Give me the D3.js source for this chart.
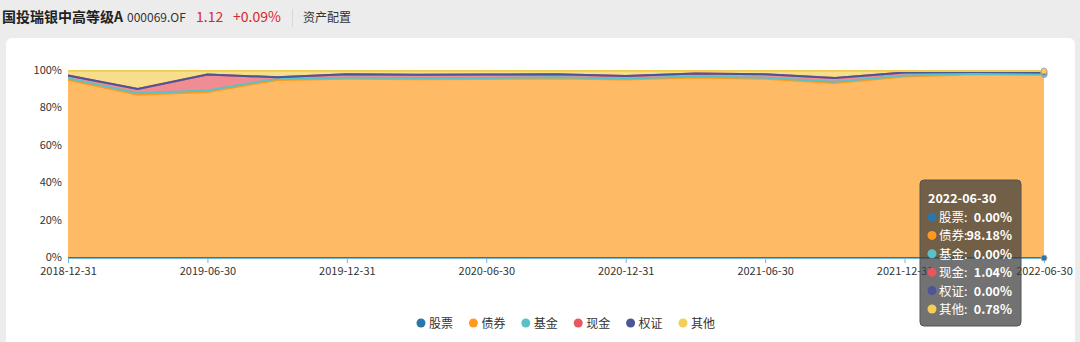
<!DOCTYPE html>
<html>
<head>
<meta charset="utf-8">
<script src="https://d3js.org/d3.v7.min.js"></script>
<style>
  body{margin:0;background:#ececec;}
  text{font-family:"Noto Sans CJK SC","Noto Sans",sans-serif;}
  .tick text{font-size:11px;fill:#333;}
</style>
</head>
<body>
<script>
var dates=["2018-12-31","2019-03-31","2019-06-30","2019-09-30","2019-12-31","2020-03-31","2020-06-30","2020-09-30","2020-12-31","2021-03-31","2021-06-30","2021-09-30","2021-12-31","2022-03-31","2022-06-30"]
var names=["股票","债券","基金","现金","权证","其他"]
var colors=["#2a78ab","#ff9a1e","#5cc1c4","#e8575f","#4b5597","#f2cf55"]
var stock=[0,0,0,0,0,0,0,0,0,0,0,0,0,0,0]
var bond=[95.3,87.3,88.8,95.2,95.8,95.6,95.7,96.0,95.4,96.5,95.8,93.6,97.0,98.2,98.18]
var fund=[0.8,0.8,0.8,0.7,0.6,0.6,0.6,0.6,0.6,0.6,0.6,0.6,0.6,0.3,0.0]
var cash=[1.5,2.3,8.5,0.8,1.8,1.8,1.8,1.6,1.3,1.6,1.8,2.1,1.6,0.9,1.04]
var warrant=[0,0,0,0,0,0,0,0,0,0,0,0,0,0,0]
var other=[2.4,9.6,1.9,3.3,1.8,2.0,1.9,1.8,2.7,1.3,1.8,3.7,0.8,0.6,0.78]
var yTicks=[0,20,40,60,80,100]

var series=[stock,bond,fund,cash,warrant,other]
var rows=dates.map(function(d,i){
  var r={date:d}
  names.forEach(function(n,k){r[n]=series[k][i]})
  return r
})

var W=1080,H=342
var svg=d3.select("body").append("svg").attr("width",W).attr("height",H)
svg.append("rect").attr("x",0).attr("y",0).attr("width",W).attr("height",H).attr("fill","#ececec")
svg.append("rect").attr("x",6).attr("y",38).attr("width",1069).attr("height",320).attr("rx",6).attr("fill","#fff")

// header
var head=svg.append("g")
head.append("text").attr("x",2).attr("y",22).attr("font-size",14).attr("font-weight","bold").attr("fill","#222").text("国投瑞银中高等级A")
head.append("text").attr("x",127).attr("y",22).attr("font-size",12).attr("fill","#333").text("000069.OF")
head.append("text").attr("x",196).attr("y",22).attr("font-size",14).attr("fill","#d9262c").text("1.12")
head.append("text").attr("x",233).attr("y",22).attr("font-size",14).attr("fill","#d9262c").text("+0.09%")
head.append("line").attr("x1",292.5).attr("x2",292.5).attr("y1",9).attr("y2",27).attr("stroke","#d8d8d8")
head.append("text").attr("x",303).attr("y",22).attr("font-size",12).attr("fill","#333").text("资产配置")

var x=d3.scalePoint().domain(dates).range([68,1044])
var y=d3.scaleLinear().domain([0,100]).range([258,71])

var stacked=d3.stack().keys(names)(rows)

var area=d3.area().x(function(d){return x(d.data.date)}).y0(function(d){return y(d[0])}).y1(function(d){return y(d[1])})
var line=d3.line().x(function(d){return x(d.data.date)}).y(function(d){return y(d[1])})

var g=svg.append("g")
g.selectAll("path.area").data(stacked).enter().append("path").attr("class","area")
  .attr("d",area).attr("fill",function(d,i){return colors[i]}).attr("fill-opacity",0.68)

// y axis
var yAxis=d3.axisLeft(y).tickValues(yTicks).tickFormat(function(d){return d+"%"}).tickSize(0).tickPadding(6)
var ya=svg.append("g").attr("transform","translate(68,-1)").call(yAxis)
ya.select(".domain").remove()

// x axis
var xAxis=d3.axisBottom(x).tickValues(dates.filter(function(d,i){return i%2==0})).tickSize(5).tickSizeOuter(0).tickPadding(4)
var xa=svg.append("g").attr("transform","translate(0,258)").call(xAxis)
xa.select(".domain").attr("stroke","#6fb8e0")
xa.selectAll(".tick line").attr("stroke","#6fb8e0")

g.selectAll("path.line").data(stacked).enter().append("path").attr("class","line")
  .attr("d",line).attr("fill","none").attr("stroke",function(d,i){return colors[i]}).attr("stroke-width",2)

// highlighted points at last date
var last=dates.length-1
svg.append("g").selectAll("circle").data(stacked).enter().append("circle")
  .attr("cx",x(dates[last])).attr("cy",function(d){return y(d[last][1])})
  .attr("r",3).attr("fill",function(d,i){return colors[i]}).attr("stroke","#aaa").attr("stroke-width",1)

// legend
var leg=svg.append("g").attr("transform","translate(421,323)")
var li=leg.selectAll("g").data(names).enter().append("g").attr("transform",function(d,i){return "translate("+(i*52.4)+",0)"})
li.append("circle").attr("r",4.5).attr("fill",function(d,i){return colors[i]})
li.append("text").attr("x",8).attr("y",5).attr("font-size",12).attr("fill","#333").text(function(d){return d})

// tooltip
var tip=svg.append("g").attr("transform","translate(920,180)")
tip.append("rect").attr("width",101).attr("height",146).attr("rx",4).attr("fill","rgba(60,60,60,0.72)").attr("stroke","#555")
tip.append("text").attr("x",8).attr("y",23).attr("font-size",12.5).attr("font-weight","bold").attr("fill","#fff").text(dates[last])
var tr=tip.selectAll("g.row").data(names).enter().append("g").attr("class","row")
  .attr("transform",function(d,i){return "translate(0,"+(37+i*18.4)+")"})
tr.append("circle").attr("cx",12).attr("cy",0).attr("r",4.5).attr("fill",function(d,i){return colors[i]})
tr.append("text").attr("x",19).attr("y",5).attr("font-size",12.5).attr("fill","#fff").text(function(d){return d+":"})
tr.append("text").attr("x",92).attr("y",5).attr("text-anchor","end").attr("font-size",12.5).attr("font-weight","bold").attr("fill","#fff")
  .text(function(d,i){return series[i][last].toFixed(2)+"%"})
</script>
</body>
</html>
